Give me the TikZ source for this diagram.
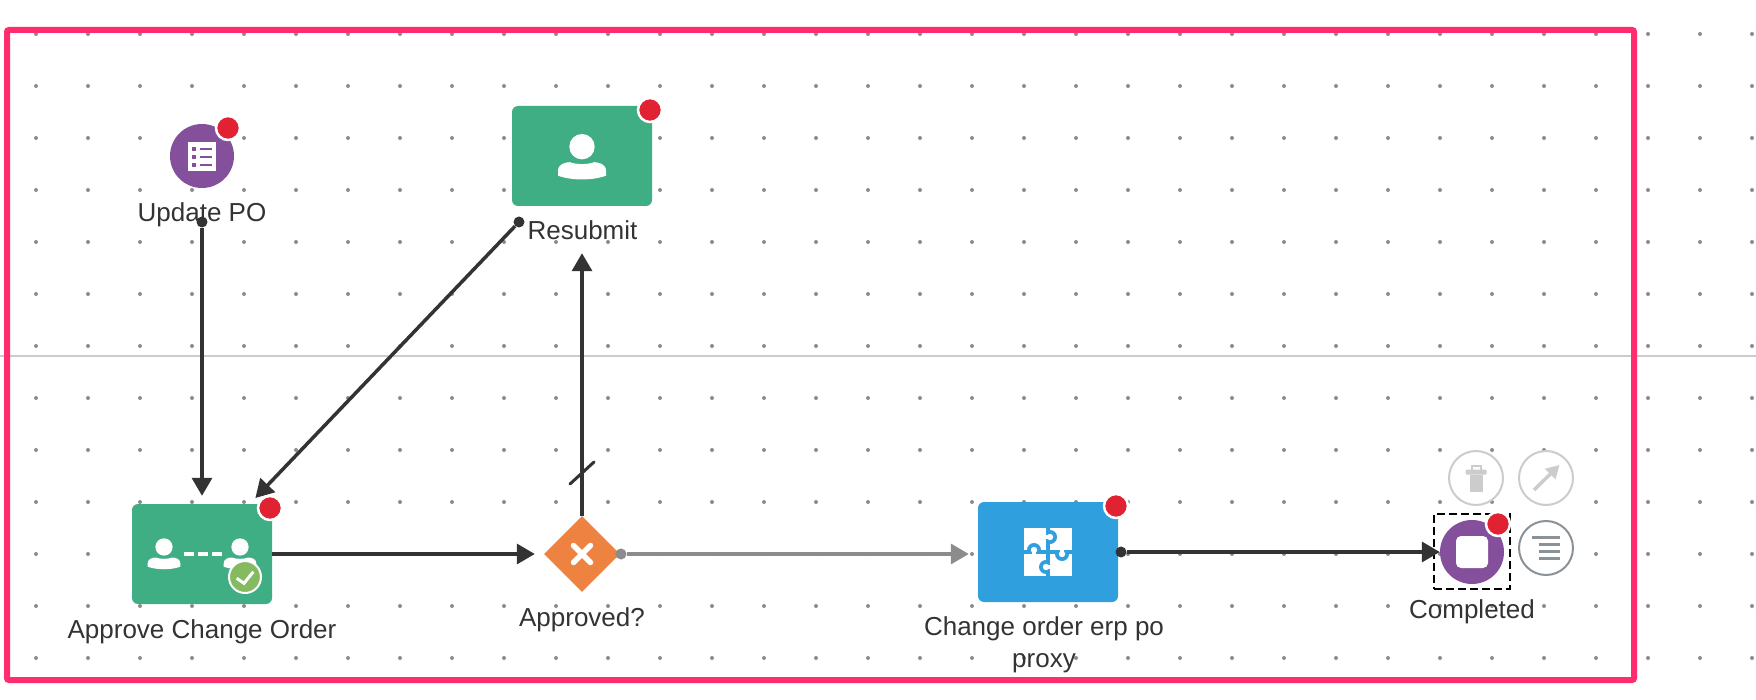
\documentclass[tikz,border=0pt]{standalone}
\usepackage{fontspec}
\setmainfont{Liberation Sans}
\usepackage{tikz}
\usetikzlibrary{shapes.geometric,arrows.meta,positioning}

\definecolor{taskgreen}{HTML}{3FAE84}
\definecolor{evpurple}{HTML}{85509B}
\definecolor{gwayorange}{HTML}{EE8240}
\definecolor{svcblue}{HTML}{2F9FDE}
\definecolor{alertred}{HTML}{E02233}
\definecolor{framepink}{HTML}{FF2D6E}
\definecolor{okgreen}{HTML}{84BB61}
\definecolor{inkdark}{HTML}{333333}
\definecolor{griddot}{HTML}{8C8C8C}
\definecolor{toolgray}{HTML}{CCCCCC}
\definecolor{menugray}{HTML}{8A9298}

\newcommand{\usericon}[3]{%
  \begin{scope}[shift={(#1,#2)},scale=#3]
    \fill[white] (0,0) circle (12.7);
    \fill[white] (-24,29) -- (-24,24) .. controls (-24,17) and (-16,15.5) .. (-12,15.5)
      .. controls (-6,18) and (6,18) .. (12,15.5)
      .. controls (16,15.5) and (24,17) .. (24,24) -- (24,29)
      .. controls (10,34) and (-10,34) .. cycle;
  \end{scope}}

\begin{document}
\begin{tikzpicture}[
  x=1pt, y=-1pt,
  taskbox/.style={rounded corners=6pt, minimum width=140pt, minimum height=100pt, inner sep=0pt},
  evcircle/.style={circle, fill=evpurple, minimum size=64pt, inner sep=0pt},
  badge/.style={circle, fill=alertred, draw=white, line width=2.5pt, minimum size=24pt, inner sep=0pt},
  tool/.style={circle, draw=toolgray, fill=white, line width=2pt, minimum size=54pt, inner sep=0pt},
  lab/.style={anchor=base, inner sep=0pt, text=inkdark, align=center,
              font=\fontsize{26}{32}\selectfont},
  knot/.style={circle, fill=inkdark, minimum size=11pt, inner sep=0pt},
  arr/.style={-{Triangle[length=18pt,width=20pt]}, line width=3.5pt, draw=inkdark}
]
\useasboundingbox (0,0) rectangle (1756,700);
\fill[white] (0,0) rectangle (1756,700);

% dotted canvas
\foreach \i in {0,...,33}
  \foreach \j in {0,...,12}
    \fill[griddot] ({36+52*\i},{34+52*\j}) circle (2);
\draw[toolgray, line width=2pt] (0,356) -- (1756,356);
\draw[framepink, line width=6pt, rounded corners=2pt] (7,30) rectangle (1634,680);

% tasks and events
\node[evcircle] (update) at (202,156) {};
\node[taskbox, fill=taskgreen] (resubmit) at (582,156) {};
\node[taskbox, fill=taskgreen] (approve) at (202,554) {};
\node[diamond, aspect=1, fill=gwayorange, minimum width=76pt, minimum height=76pt, inner sep=0pt] (gate) at (582,554) {};
\node[taskbox, fill=svcblue] (change) at (1048,552) {};
\node[evcircle] (done) at (1472,552) {};
\node[draw=black, line width=2pt, dash pattern=on 8pt off 4pt, minimum width=76pt, minimum height=75pt, inner sep=0pt] (selected) at (1472,551.5) {};

% side tools
\node[tool] (trash) at (1476,478) {};
\node[tool] (jump) at (1546,478) {};
\node[tool, draw=menugray] (menu) at (1546,548) {};

% labels
\node[lab] (updatelab) at (202,222) {Update PO};
\node[lab] (resubmitlab) at (582.5,240) {Resubmit};
\node[lab] (approvelab) at (202,638) {Approve Change Order};
\node[lab] (gatelab) at (582,626) {Approved?};
\node[lab, anchor=north] (changelab) at (1044,616) {Change order erp po\\proxy};
\node[lab] (donelab) at (1472,618) {Completed};

% update icon
\fill[white] (188,142) rectangle (216,171);
\foreach \ly in {149,157,165} {
  \fill[evpurple] (192,{\ly-2}) rectangle (196,{\ly+2});
  \draw[evpurple, line width=1.5pt] (200,\ly) -- (212,\ly);
}

% user icons
\usericon{582}{146.7}{1}
\usericon{164}{547}{0.68}
\usericon{240}{547}{0.68}
\foreach \dx in {184,198,212}
  \fill[white] (\dx,552) rectangle ({\dx+10},556);
\fill[okgreen, draw=white, line width=2pt] (245,577) circle (16);
\draw[white, line width=3pt] (236.7,578.3) -- (244,583.3) -- (253.3,571.7);

% gateway cross
\draw[white, line width=5.5pt, line cap=round] (573.5,545.5) -- (590.5,562.5);
\draw[white, line width=5.5pt, line cap=round] (590.5,545.5) -- (573.5,562.5);

% puzzle icon
\fill[white] (1024,528) rectangle (1072,576);
\foreach \kx/\ky/\sx/\sy in {1050/537/-1/0, 1034/550/0/1, 1062/554/0/-1, 1046/567/1/0} {
  \fill[svcblue] (\kx,\ky) circle (7);
  \draw[white, line width=15pt] (\kx,\ky) -- ({\kx+8*\sx},{\ky+8*\sy});
}
\fill[svcblue] (1046,528) rectangle (1050,576);
\fill[svcblue] (1024,550) rectangle (1072,554);
\foreach \kx/\ky/\sx/\sy in {1050/537/-1/0, 1034/550/0/1, 1062/554/0/-1, 1046/567/1/0} {
  \fill[white] (\kx,\ky) circle (3.2);
  \draw[white, line width=3.5pt] (\kx,\ky) -- ({\kx+6*\sx},{\ky+6*\sy});
}

% stop icon
\fill[white, rounded corners=5pt] (1456,536) rectangle (1488,568);

% trash, jump and menu icons
\fill[toolgray, rounded corners=1pt] (1465.5,469.5) rectangle (1486.5,474.5);
\draw[toolgray, line width=2pt] (1471.5,469.5) -- (1471.5,465.5) -- (1480.5,465.5) -- (1480.5,469.5);
\fill[toolgray] (1469.5,475) rectangle (1482.5,492);
\draw[toolgray, line width=3.5pt, -{Triangle[length=13pt,width=14pt]}] (1534,490) -- (1559.5,465);
\draw[menugray, line width=3.5pt] (1532,537.5) -- (1560,537.5);
\foreach \ly in {544.5,551.5,558.5}
  \draw[menugray, line width=3.5pt] (1539,\ly) -- (1560,\ly);

% connectors
\node[knot] (updateout) at (202,222) {};
\node[knot] (resubmitout) at (519,222) {};
\node[knot, fill=griddot] (gateout) at (621,554) {};
\node[knot] (changeout) at (1121,552) {};

\draw[arr, shorten >=8pt] (updateout) -- (approve);
\draw[arr, shorten >=8pt] (resubmitout) -- (approve);
\draw[arr, shorten >=9pt] (approve) -- (gate);
\draw[arr, shorten >=47pt] (gate) -- (resubmit);
\draw[arr, draw=griddot, fill=griddot, shorten >=9pt] (gateout) -- (gateout -| change.west);
\draw[arr] (changeout) -- (done);
% flow mark
\draw[inkdark, line width=3pt, line cap=round] (570,484) -- (594,462);

% alert badges
\foreach \bx/\by [count=\n] in {228/128, 650/110, 270/508, 1116/506, 1498/524}
  \node[badge] (alert\n) at (\bx,\by) {};
\end{tikzpicture}
\end{document}
